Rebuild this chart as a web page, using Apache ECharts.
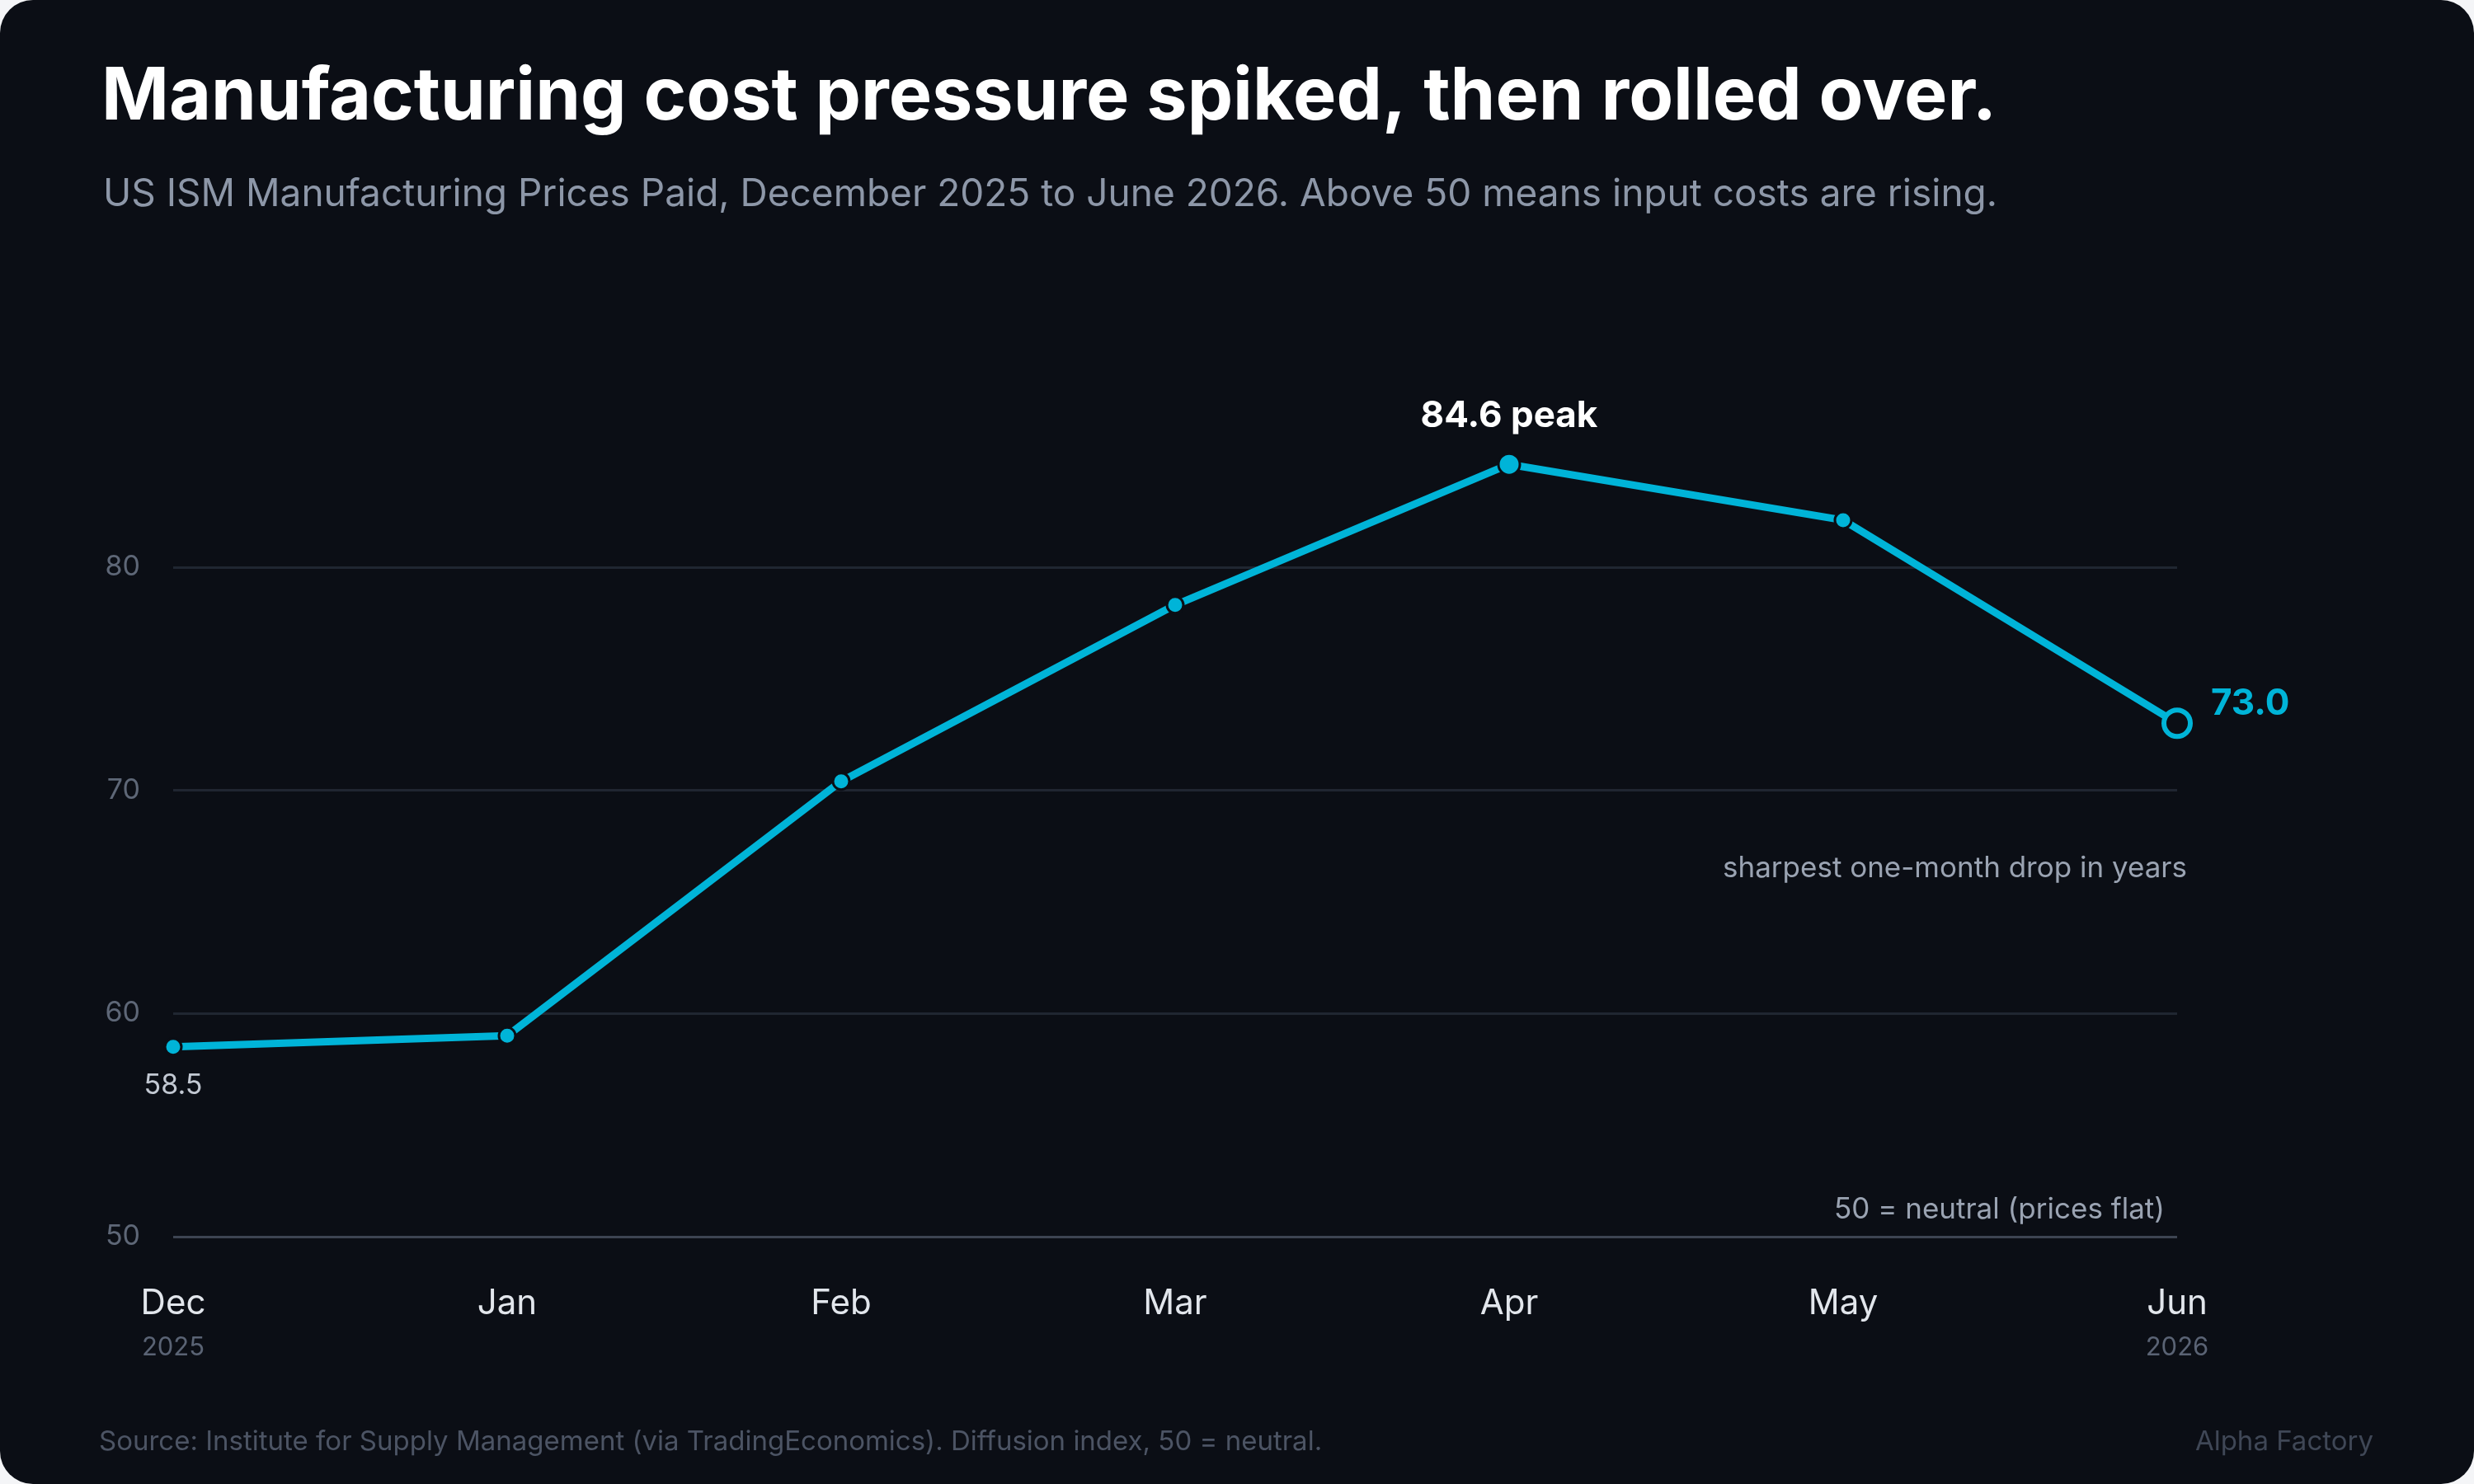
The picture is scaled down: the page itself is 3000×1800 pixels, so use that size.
<!DOCTYPE html>
<html><head><meta charset="utf-8">
<script src="https://cdn.jsdelivr.net/npm/echarts@6/dist/echarts.min.js"></script>
<style>html,body{margin:0;background:#f4f5f7;}#c{width:3000px;height:1800px;background:#0b0e15;border-radius:40px;overflow:hidden}</style>
</head><body><div id="c"></div>
<script>
const months = ['Dec','Jan','Feb','Mar','Apr','May','Jun'];
const years = ['2025','','','','','','2026'];
const prices = [58.5, 59.0, 70.4, 78.3, 84.6, 82.1, 73.0];
const yTicks = [50, 60, 70, 80];
const C = '#00b4d8';
const chart = echarts.init(document.getElementById('c'));
const F = 'Inter, "Noto Sans", sans-serif';
const pts = prices.map((v, i) => {
  const p = {value: v};
  if (i === 4) p.symbolSize = 26, p.label = {show: true, position: 'top', distance: 22, formatter: '84.6 peak', color: '#ffffff', fontSize: 44, fontWeight: 'bold', fontFamily: F};
  if (i === 6) p.symbolSize = 32, p.itemStyle = {color: '#0b0e15', borderColor: C, borderWidth: 6}, p.label = {show: true, position: 'right', distance: 22, offset: [0, -24], formatter: v.toFixed(1), color: C, fontSize: 44, fontWeight: 'bold', fontFamily: F};
  if (i === 0) p.label = {show: true, position: 'bottom', distance: 18, formatter: '58.5', color: '#c2c8d2', fontSize: 34, fontFamily: F};
  return p;
});
chart.setOption({
  animation: false,
  title: [
    {text: 'Manufacturing cost pressure spiked, then rolled over.', left: 118, top: 70, textStyle: {color: '#ffffff', fontSize: 88, fontWeight: 'bold', fontFamily: F}},
    {text: 'US ISM Manufacturing Prices Paid, December 2025 to June 2026. Above 50 means input costs are rising.', left: 120, top: 208, textStyle: {color: '#8d97a8', fontSize: 46, fontWeight: 'normal', fontFamily: F}}
  ],
  grid: {left: 210, right: 360, top: 417, bottom: 300},
  xAxis: {type: 'category', data: months, boundaryGap: false,
    axisLine: {show: false}, axisTick: {show: false},
    axisLabel: {margin: 52, interval: 0, formatter: (v, i) => '{m|' + v + '}\n{y|' + (years[i] || ' ') + '}',
      rich: {m: {color: '#e2e6ec', fontSize: 42, fontFamily: F, lineHeight: 58}, y: {color: '#5a6374', fontSize: 31, fontFamily: F, lineHeight: 50}}}},
  yAxis: {type: 'value', min: 50, max: 90, interval: 10,
    axisLine: {show: false}, axisTick: {show: false},
    axisLabel: {margin: 40, color: '#5e6777', fontSize: 34, fontFamily: F, formatter: v => yTicks.includes(v) ? String(v) : ''},
    splitLine: {lineStyle: {color: ['#3d4452', '#202631', '#202631', '#202631', 'transparent'], width: 3}}},
  series: [{type: 'line', data: pts, symbol: 'circle', symbolSize: 20,
    lineStyle: {color: C, width: 9}, itemStyle: {color: C, borderColor: '#0b0e15', borderWidth: 3}}],
  graphic: [
    {type: 'text', right: 348, top: 1036, style: {text: 'sharpest one-month drop in years', fill: '#9aa3b2', fontSize: 35, fontFamily: F}},
    {type: 'text', right: 375, top: 1450, style: {text: '50 = neutral (prices flat)', fill: '#9aa3b2', fontSize: 35, fontFamily: F}},
    {type: 'text', left: 120, top: 1733, style: {text: 'Source: Institute for Supply Management (via TradingEconomics). Diffusion index, 50 = neutral.', fill: '#4c5464', fontSize: 33, fontFamily: F}},
    {type: 'text', right: 122, top: 1733, style: {text: 'Alpha Factory', fill: '#3f4756', fontSize: 33, fontFamily: F}}
  ]
});
</script></body></html>
